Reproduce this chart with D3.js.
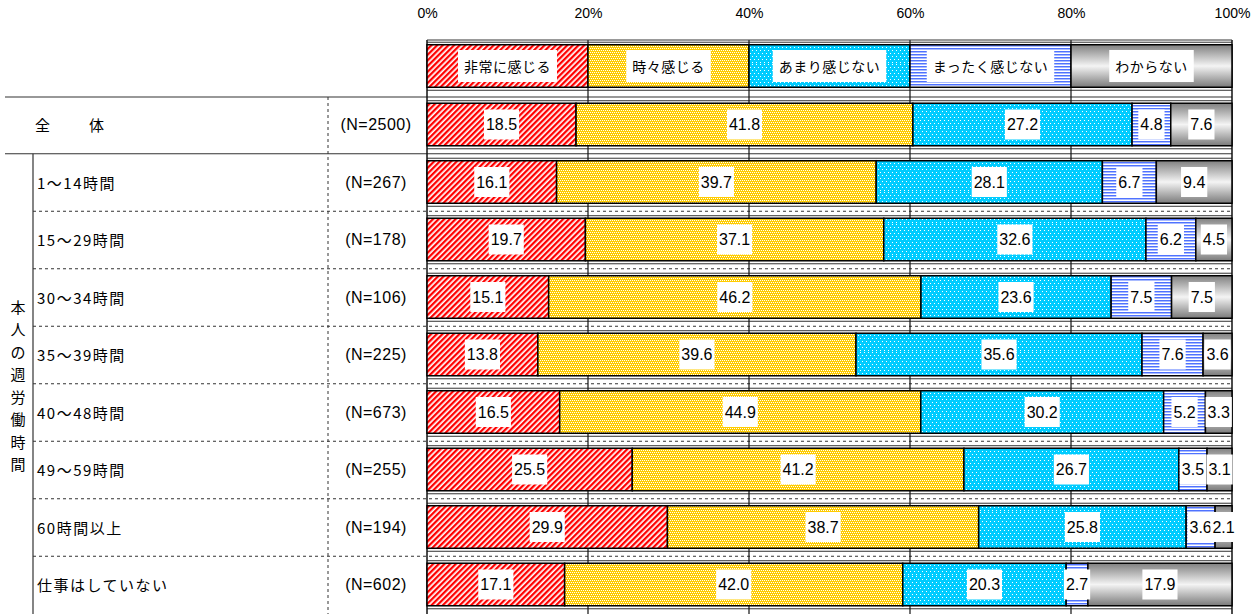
<!DOCTYPE html>
<html>
<head>
<meta charset="utf-8">
<script src="https://cdn.jsdelivr.net/npm/d3@7"></script>
<style>
  html, body { margin: 0; padding: 0; background: #fff; }
  svg { display: block; }
  .jp { font-family: "Noto Sans CJK JP", "Noto Sans", sans-serif; }
  .num { font-family: "Liberation Sans", Arial, sans-serif; }
</style>
</head>
<body>
<script>
// Row categories and sample sizes
const categories = ["全　　　体", "1～14時間", "15～29時間", "30～34時間", "35～39時間",
                    "40～48時間", "49～59時間", "60時間以上", "仕事はしていない"];
const sampleSizes = ["(N=2500)", "(N=267)", "(N=178)", "(N=106)", "(N=225)",
                     "(N=673)", "(N=255)", "(N=194)", "(N=602)"];
const groupLabel = "本人の週労働時間";

// Response series (percent)
const seriesNames = ["非常に感じる", "時々感じる", "あまり感じない", "まったく感じない", "わからない"];
const veryMuch  = [18.5, 16.1, 19.7, 15.1, 13.8, 16.5, 25.5, 29.9, 17.1];
const sometimes = [41.8, 39.7, 37.1, 46.2, 39.6, 44.9, 41.2, 38.7, 42.0];
const notMuch   = [27.2, 28.1, 32.6, 23.6, 35.6, 30.2, 26.7, 25.8, 20.3];
const notAtAll  = [4.8, 6.7, 6.2, 7.5, 7.6, 5.2, 3.5, 3.6, 2.7];
const dontKnow  = [7.6, 9.4, 4.5, 7.5, 3.6, 3.3, 3.1, 2.1, 17.9];

// Axis ticks
const tickValues = [0, 20, 40, 60, 80, 100];

const W = 1258, H = 614;
const svg = d3.select("body").append("svg").attr("width", W).attr("height", H);
const defs = svg.append("defs");

// ---- fill patterns (32px tiles) ----
const T = 32;
function pat(id, w, h, transform) {
  const p = defs.append("pattern").attr("id", id).attr("patternUnits", "userSpaceOnUse")
    .attr("x", 0).attr("y", 0).attr("width", w).attr("height", h);
  if (transform) p.attr("patternTransform", transform);
  return p;
}
function px(p, x0, y0, w, h, c) {
  p.append("rect").attr("x", x0).attr("y", y0).attr("width", w).attr("height", h)
    .attr("fill", c).attr("shape-rendering", "crispEdges");
}
// red diagonal stripes
let p = pat("pRed", 4, 4, "rotate(45)");
p.append("rect").attr("width", 4).attr("height", 4).attr("fill", "#ffffff");
p.append("rect").attr("width", 2.3).attr("height", 4).attr("fill", "#ff0000");
// gold checker with small white cells
p = pat("pGold", T, T);
px(p, 0, 0, T, T, "#ffcc00");
for (let yy = 0; yy < T; yy += 2) for (let xx = (yy % 4 === 0 ? 0 : 1); xx < T; xx += 2) px(p, xx, yy, 1, 1, "#ffffff");
// cyan with sparse white dots
p = pat("pCyan", T, T);
px(p, 0, 0, T, T, "#00ccff");
for (let yy = 0; yy < T; yy += 3) for (let xx = (yy % 6 === 0 ? 0 : 2); xx < T; xx += 4) px(p, xx, yy, 1, 1, "#ffffff");
// blue horizontal lines
p = pat("pBlue", T, 3);
px(p, 0, 0, T, 3, "#ffffff");
px(p, 0, 0, T, 1, "#4f72ff");
px(p, 0, 1, T, 1, "#a9bbff");
// grey cylinder gradient
const g = defs.append("linearGradient").attr("id", "gGrey").attr("x1", 0).attr("y1", 0).attr("x2", 0).attr("y2", 1);
g.append("stop").attr("offset", "0%").attr("stop-color", "#808080");
g.append("stop").attr("offset", "50%").attr("stop-color", "#f4f4f4");
g.append("stop").attr("offset", "100%").attr("stop-color", "#7a7a7a");

const fills = ["url(#pRed)", "url(#pGold)", "url(#pCyan)", "url(#pBlue)", "url(#gGrey)"];

// ---- scales ----
const x = d3.scaleLinear().domain([0, 100]).range([427, 1232]);
const rowTop = 95.75, rowPitch = 57.5;
const y = d3.scaleBand().domain(categories)
  .range([rowTop, rowTop + rowPitch * categories.length])
  .paddingInner(0.26).paddingOuter(0.13);
const barH = y.bandwidth();
const legendCY = 66;

const rows = categories.map((c, i) => {
  const vals = [veryMuch[i], sometimes[i], notMuch[i], notAtAll[i], dontKnow[i]];
  const total = d3.sum(vals);
  let acc = 0;
  const segs = vals.map((v, k) => {
    const s = { k, v, x0: acc / total * 100, x1: (acc + v) / total * 100 };
    acc += v;
    return s;
  });
  return { c, i, segs, cy: y(c) + barH / 2 };
});

const lineCol = "#333";
const bottom = H;

// ---- table grid ----
const grid = svg.append("g");
const topRule = rowTop + 1.25;
grid.append("line").attr("x1", 5).attr("x2", 1232).attr("y1", topRule).attr("y2", topRule)
  .attr("stroke", lineCol).attr("stroke-width", 1.2);
rows.forEach((r, i) => {
  if (i === rows.length - 1) return;
  const yy = r.cy + rowPitch / 2 + 0.5;
  if (i === 0) {
    grid.append("line").attr("x1", 5).attr("x2", 1232).attr("y1", yy).attr("y2", yy)
      .attr("stroke", lineCol).attr("stroke-width", 1.2);
  } else {
    grid.append("line").attr("x1", 33).attr("x2", 1232).attr("y1", yy).attr("y2", yy)
      .attr("stroke", lineCol).attr("stroke-width", 1).attr("stroke-dasharray", "3,3");
  }
});
grid.append("line").attr("x1", 33).attr("x2", 33).attr("y1", rows[0].cy + rowPitch / 2 + 0.5).attr("y2", bottom)
  .attr("stroke", lineCol).attr("stroke-width", 1.2);
grid.append("line").attr("x1", 328).attr("x2", 328).attr("y1", topRule).attr("y2", bottom)
  .attr("stroke", lineCol).attr("stroke-width", 1).attr("stroke-dasharray", "3,3");

// frames around each bar row (and the legend row)
const frames = [{ cy: legendCY }].concat(rows);
frames.forEach(f => {
  [f.cy - barH / 2 - 2.5, f.cy + barH / 2 + 3].forEach(yy => {
    grid.append("line").attr("x1", x(0)).attr("x2", x(100)).attr("y1", yy).attr("y2", yy)
      .attr("stroke", lineCol).attr("stroke-width", 1);
  });
});
// vertical gridlines
grid.selectAll("line.v").data(tickValues).join("line").attr("class", "v")
  .attr("x1", d => x(d)).attr("x2", d => x(d)).attr("y1", 40).attr("y2", bottom)
  .attr("stroke", "#111").attr("stroke-width", d => (d === 0 || d === 100) ? 1.5 : 1.2);
grid.append("line").attr("x1", x(0)).attr("x2", x(100)).attr("y1", 40).attr("y2", 40)
  .attr("stroke", lineCol).attr("stroke-width", 1);

// ---- axis ----
const axis = svg.append("g").attr("transform", "translate(0,21)")
  .call(d3.axisTop(x).tickValues(tickValues).tickSize(0).tickFormat(d => d + "%"));
axis.select(".domain").remove();
axis.selectAll("text").attr("font-size", 14).attr("fill", "#000")
  .attr("font-family", "Liberation Sans, Arial, sans-serif");

// ---- label box helper ----
function boxedLabel(parent, cx, cy, text, cls, size, padX, boxH, ls) {
  const gg = parent.append("g");
  const rect = gg.append("rect").attr("fill", "#fff");
  const t = gg.append("text").attr("class", cls).attr("x", cx).attr("y", cy)
    .attr("text-anchor", "middle").attr("dominant-baseline", "central")
    .attr("font-size", size).attr("fill", "#000").attr("letter-spacing", ls).text(text);
  const w = t.node().getComputedTextLength();
  rect.attr("x", cx - w / 2 - padX).attr("y", cy - boxH / 2).attr("width", w + 2 * padX).attr("height", boxH);
}

// ---- legend ----
const legend = svg.append("g");
seriesNames.forEach((name, k) => {
  legend.append("rect").attr("x", x(k * 20)).attr("y", legendCY - barH / 2)
    .attr("width", x(20) - x(0)).attr("height", barH)
    .attr("fill", fills[k]).attr("stroke", "#000").attr("stroke-width", 1.5);
});
seriesNames.forEach((name, k) => {
  boxedLabel(legend, x(k * 20 + 10), legendCY, name, "jp", 14, 6, 32, 0.5);
});

// ---- bars ----
const bars = svg.append("g");
rows.forEach(r => {
  bars.selectAll(null).data(r.segs).join("rect")
    .attr("x", d => x(d.x0)).attr("y", r.cy - barH / 2)
    .attr("width", d => x(d.x1) - x(d.x0)).attr("height", barH)
    .attr("fill", d => fills[d.k]).attr("stroke", "#000").attr("stroke-width", 1.5);
});
rows.forEach(r => {
  r.segs.forEach(d => {
    boxedLabel(bars, x((d.x0 + d.x1) / 2), r.cy, d.v.toFixed(1), "num", 16, 2, 30, 0);
  });
});

// ---- row labels ----
const labels = svg.append("g");
rows.forEach(r => {
  labels.append("text").attr("class", "jp").attr("x", r.i === 0 ? 35 : 37).attr("y", r.cy)
    .attr("dominant-baseline", "central").attr("font-size", 15)
    .attr("letter-spacing", r.i === 0 ? -1.5 : 1.5).attr("fill", "#000").text(r.c);
  labels.append("text").attr("class", "num").attr("x", 376).attr("y", r.cy)
    .attr("text-anchor", "middle").attr("dominant-baseline", "central")
    .attr("font-size", 16).attr("letter-spacing", 0.5).attr("fill", "#000").text(sampleSizes[r.i]);
});
// vertical group label
const chars = Array.from(groupLabel);
const gy0 = 306, gstep = 22.5;
chars.forEach((ch, j) => {
  labels.append("text").attr("class", "jp").attr("x", 18).attr("y", gy0 + j * gstep)
    .attr("text-anchor", "middle").attr("dominant-baseline", "central")
    .attr("font-size", 15).attr("fill", "#000").text(ch);
});
</script>
</body>
</html>
